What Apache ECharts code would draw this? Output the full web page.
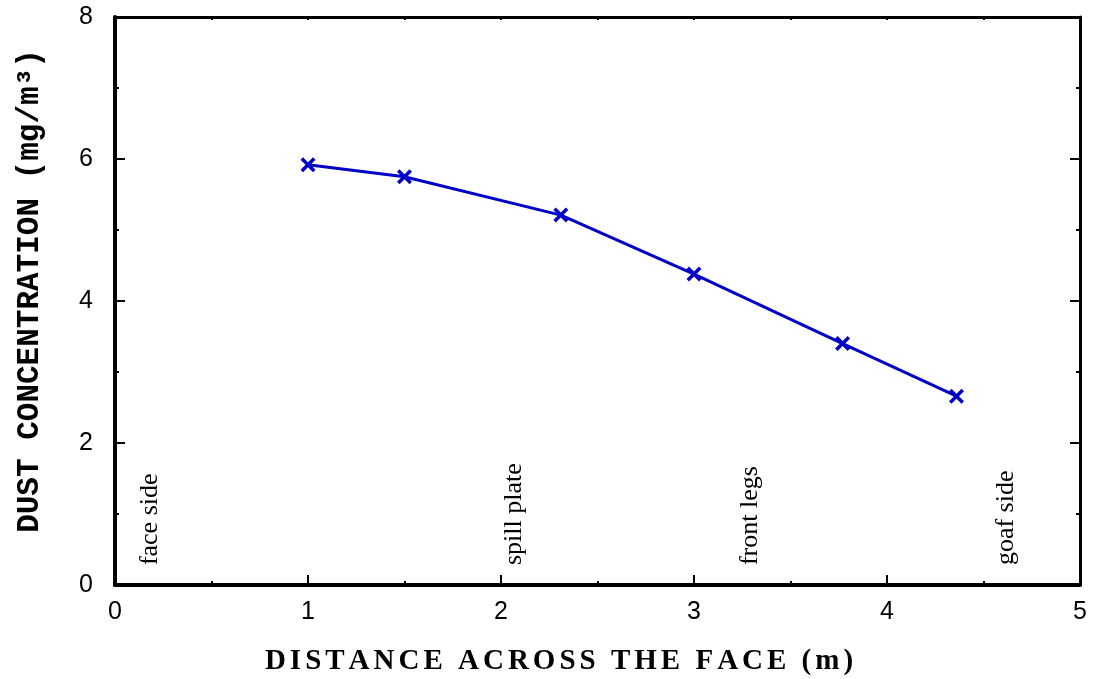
<!DOCTYPE html>
<html>
<head>
<meta charset="utf-8">
<script src="https://cdn.jsdelivr.net/npm/echarts@6/dist/echarts.min.js"></script>
<style>
  html, body { margin: 0; padding: 0; background: #fff; }
  #chart { width: 1102px; height: 679px; }
</style>
</head>
<body>
<div id="chart"></div>
<script>
// Measured dust concentration across the face
const distance = [1.0, 1.5, 2.31, 3.0, 3.77, 4.36];
const concentration = [5.92, 5.75, 5.21, 4.38, 3.40, 2.66];

// Zone labels placed along the face (x position in metres)
const zoneNames = ['face side', 'spill plate', 'front legs', 'goaf side'];
const zoneX = [0.18, 2.07, 3.29, 4.62];
const zoneY = 0.28;

const xTitle = 'DISTANCE ACROSS THE FACE (m)';
const yTitle = 'DUST CONCENTRATION (mg/m\u00B3)';

const BLUE = '#0000c8';
const CROSS = 'path://M0,2 L2,0 L6,4 L10,0 L12,2 L8,6 L12,10 L10,12 L6,8 L2,12 L0,10 L4,6 Z';

const chart = echarts.init(document.getElementById('chart'), null, { renderer: 'canvas' });

// Letter-spaced title: one rich token per character
const spaced = xTitle.split('').map(c => '{s|' + c + '}').join('');

const tickLabel = { fontFamily: 'Liberation Sans', fontSize: 25, color: '#000' };

chart.setOption({
  animation: false,
  backgroundColor: '#fff',
  grid: { left: 115, right: 22, top: 17, bottom: 94 },
  xAxis: [
    {
      type: 'value', min: 0, max: 5, interval: 1, position: 'bottom',
      axisLine: { onZero: false, lineStyle: { color: '#000', width: 4 } },
      axisTick: { inside: true, length: 10, lineStyle: { color: '#000', width: 2 } },
      minorTick: { show: true, splitNumber: 2, length: 4, lineStyle: { color: '#000', width: 2 } },
      axisLabel: Object.assign({ margin: 15 }, tickLabel),
      splitLine: { show: false }
    },
    {
      type: 'value', min: 0, max: 5, interval: 0.5, position: 'top',
      axisLine: { onZero: false, lineStyle: { color: '#000', width: 3 } },
      axisTick: { inside: true, length: 3, lineStyle: { color: '#000', width: 2 } },
      axisLabel: { show: false },
      splitLine: { show: false }
    }
  ],
  yAxis: [
    {
      type: 'value', min: 0, max: 8, interval: 2, position: 'left',
      axisLine: { onZero: false, lineStyle: { color: '#000', width: 4 } },
      axisTick: { inside: true, length: 10, lineStyle: { color: '#000', width: 2 } },
      minorTick: { show: true, splitNumber: 2, length: 4, lineStyle: { color: '#000', width: 2 } },
      axisLabel: Object.assign({ margin: 22 }, tickLabel),
      splitLine: { show: false }
    },
    {
      type: 'value', min: 0, max: 8, interval: 2, position: 'right',
      axisLine: { onZero: false, lineStyle: { color: '#000', width: 3 } },
      axisTick: { inside: true, length: 10, lineStyle: { color: '#000', width: 2 } },
      minorTick: { show: true, splitNumber: 2, length: 4, lineStyle: { color: '#000', width: 2 } },
      axisLabel: { show: false },
      splitLine: { show: false }
    }
  ],
  series: [
    {
      type: 'line',
      data: distance.map((d, i) => [d, concentration[i]]),
      lineStyle: { color: BLUE, width: 3 },
      itemStyle: { color: BLUE },
      symbol: CROSS,
      symbolSize: 15,
      showSymbol: true,
      z: 5
    }
  ],
  graphic: []
});

function placeTexts() {
  const els = zoneNames.map((name, i) => {
    const p = chart.convertToPixel({ xAxisIndex: 0, yAxisIndex: 0 }, [zoneX[i], zoneY]);
    return {
      type: 'text', x: p[0], y: p[1], rotation: Math.PI / 2,
      style: {
        text: name, fontFamily: 'Liberation Serif', fontSize: 26,
        fill: '#000', align: 'left', verticalAlign: 'middle'
      }
    };
  });
  els.push({
    type: 'text', x: 561, y: 662,
    style: {
      text: spaced, align: 'center', verticalAlign: 'middle',
      rich: {
        s: { fontFamily: 'Liberation Serif', fontWeight: 'bold', fontSize: 29, fill: '#000', padding: [0, 4, 0, 0] }
      }
    }
  });
  els.push({
    type: 'text', x: 30, y: 291, rotation: Math.PI / 2,
    style: {
      text: yTitle, fontFamily: 'Liberation Mono', fontWeight: 'bold', fontSize: 31,
      fill: '#000', align: 'center', verticalAlign: 'middle'
    }
  });
  chart.setOption({ graphic: els });
}
placeTexts();
</script>
</body>
</html>
